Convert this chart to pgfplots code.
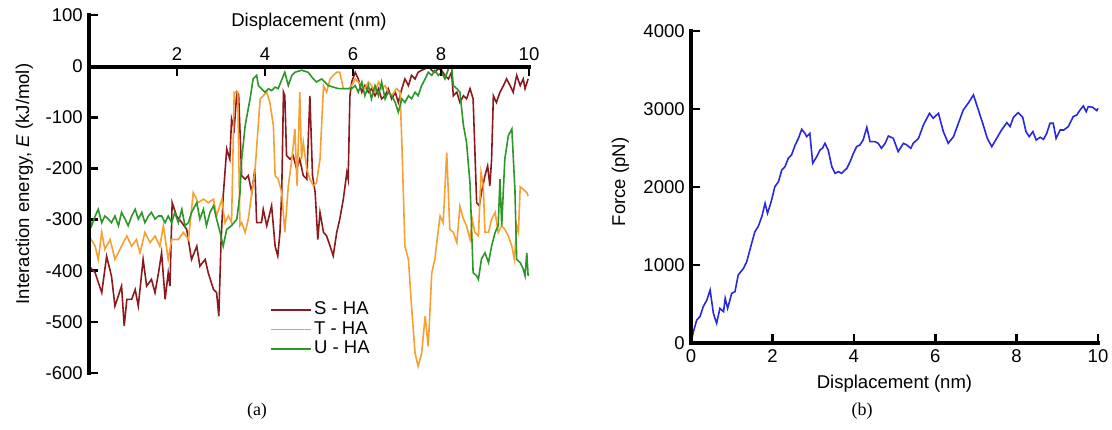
\documentclass[border=0pt]{standalone}
\usepackage{pgfplots}
\pgfplotsset{compat=1.18}
\usepackage{fontspec}
\setmainfont{Liberation Sans}
\newfontfamily\serifcap{Liberation Serif}
\definecolor{cS}{RGB}{140,25,30}
\definecolor{cT}{RGB}{247,160,50}
\definecolor{cU}{RGB}{45,150,40}
\definecolor{cF}{RGB}{40,40,225}
\tikzset{axline/.style={line width=3.2pt, black, line cap=rect}}
\pgfplotsset{
  myax/.style={
    scale only axis,
    clip=false,
    font=\fontsize{18.5}{22}\selectfont,
    tick label style={font=\fontsize{18.5}{22}\selectfont},
    label style={font=\fontsize{18.5}{22}\selectfont},
    /pgf/number format/assume math mode=true,
    axis line style={draw=none},
    tick style={line width=2.6pt, black},
    major tick length=9pt,
    tick align=inside,
  }
}
\begin{document}
\fontsize{18.5}{22}\selectfont%
\begin{tikzpicture}
\path[use as bounding box] (0,0) rectangle (1112pt,430pt);
% ---------- panel (a) ----------
\begin{axis}[myax,
  at={(89pt,57pt)}, anchor=south west,
  width=440pt, height=358pt,
  xmin=0, xmax=10, ymin=-600, ymax=100,
  xtick=\empty, ytick pos=left,
  ytick={-600,-500,...,100},
  ylabel={Interaction energy, \textit{E} (kJ/mol)},
  ylabel style={xshift=10pt, yshift=0pt},
  legend style={draw=none, fill=none, at={(axis cs:4.05,-453)}, anchor=north west,
    font=\fontsize{18.5}{22}\selectfont, row sep=0pt},
  legend cell align=left,
  legend image code/.code={\draw[#1, line width=1.8pt] (0pt,0pt) -- (40pt,0pt);},
  every axis plot/.append style={line width=1.6pt},
]
\addplot[cS] coordinates {
(0,-391)(0.14,-404)(0.29,-443)(0.40,-372)(0.51,-410)(0.59,-469)(0.74,-430)(0.80,-508)
(0.86,-456)(0.97,-456)(1.05,-437)(1.12,-469)(1.23,-378)(1.31,-430)(1.42,-417)(1.50,-443)
(1.58,-404)(1.65,-365)(1.73,-456)(1.80,-404)(1.84,-430)(1.89,-267)(1.99,-293)(2.11,-306)
(2.22,-319)(2.33,-378)(2.45,-352)(2.52,-391)(2.64,-378)(2.71,-404)(2.83,-437)(2.90,-443)
(2.95,-489)(3.00,-345)(3.05,-254)(3.13,-162)(3.20,-182)(3.24,-103)(3.30,-123)(3.36,-51)
(3.40,-55)(3.47,-214)(3.55,-221)(3.62,-214)(3.70,-247)(3.77,-201)(3.81,-306)(3.92,-306)
(3.96,-280)(4.04,-312)(4.15,-273)(4.23,-352)(4.29,-371)(4.34,-325)(4.38,-247)(4.42,-51)
(4.45,-58)(4.49,-175)(4.57,-182)(4.64,-175)(4.72,-201)(4.79,-182)(4.87,-214)(4.95,-221)
(5.02,-58)(5.08,-214)(5.14,-247)(5.20,-339)(5.25,-286)(5.33,-325)(5.40,-332)(5.48,-352)
(5.55,-371)(5.63,-325)(5.70,-299)(5.78,-260)(5.86,-208)(5.89,-221)(5.93,-58)(5.97,-31)
(6.05,-12)(6.12,-25)(6.20,-51)(6.27,-38)(6.35,-51)(6.42,-44)(6.50,-58)(6.58,-44)
(6.65,-64)(6.73,-58)(6.80,-44)(6.88,-64)(6.96,-51)(7.03,-71)(7.11,-44)(7.18,-25)
(7.26,-38)(7.33,-18)(7.41,-25)(7.48,-12)(7.56,-8)(7.64,-5)(7.71,0)(7.79,-8)
(7.86,-12)(7.94,-5)(8.01,-8)(8.09,-18)(8.17,-25)(8.24,-12)(8.28,-58)(8.36,-51)
(8.43,-71)(8.51,-58)(8.58,-64)(8.66,-44)(8.73,-64)(8.81,-267)(8.87,-273)(8.92,-247)
(9.00,-214)(9.06,-195)(9.11,-234)(9.15,-182)(9.19,-58)(9.26,-71)(9.34,-51)(9.42,-38)
(9.49,-25)(9.57,-38)(9.64,-51)(9.72,-18)(9.80,-38)(9.87,-25)(9.91,-44)(9.98,-25)
};
\addlegendentry{S - HA}
\addplot[cT] coordinates {
(0,-332)(0.14,-352)(0.21,-378)(0.29,-325)(0.36,-358)(0.48,-339)(0.59,-378)(0.74,-352)
(0.86,-332)(0.97,-352)(1.08,-339)(1.16,-365)(1.27,-325)(1.39,-345)(1.50,-332)(1.61,-352)
(1.69,-312)(1.80,-378)(1.88,-339)(2.03,-339)(2.14,-325)(2.26,-339)(2.37,-247)(2.48,-267)
(2.60,-260)(2.71,-267)(2.83,-260)(2.90,-293)(3.02,-260)(3.09,-306)(3.17,-293)(3.24,-306)
(3.30,-51)(3.38,-51)(3.43,-312)(3.47,-306)(3.55,-325)(3.62,-299)(3.70,-247)(3.77,-208)
(3.89,-64)(3.96,-58)(4.04,-51)(4.11,-71)(4.19,-116)(4.23,-214)(4.30,-221)(4.38,-247)
(4.45,-325)(4.53,-234)(4.61,-182)(4.68,-123)(4.73,-234)(4.79,-51)(4.83,-182)(4.87,-149)
(4.95,-201)(5.02,-221)(5.10,-234)(5.17,-228)(5.25,-182)(5.33,-38)(5.40,-51)(5.48,-25)
(5.55,-18)(5.63,-12)(5.70,-12)(5.78,-44)(5.89,-44)(5.97,-38)(6.05,-25)(6.12,-31)
(6.20,-38)(6.27,-44)(6.35,-31)(6.42,-38)(6.50,-51)(6.58,-31)(6.65,-44)(6.73,-38)
(6.80,-51)(6.88,-58)(6.99,-44)(7.07,-51)(7.11,-149)(7.18,-352)(7.26,-378)(7.33,-469)
(7.41,-561)(7.48,-587)(7.56,-561)(7.64,-489)(7.71,-548)(7.79,-404)(7.86,-378)(7.94,-319)
(7.98,-293)(8.05,-306)(8.13,-169)(8.20,-319)(8.28,-325)(8.36,-345)(8.43,-274)(8.51,-299)
(8.58,-312)(8.66,-339)(8.71,-299)(8.77,-325)(8.85,-332)(8.91,-208)(8.96,-234)(9.00,-325)
(9.08,-325)(9.15,-299)(9.23,-286)(9.30,-325)(9.38,-312)(9.45,-319)(9.53,-332)(9.61,-352)
(9.67,-378)(9.72,-312)(9.76,-325)(9.80,-236)(9.87,-241)(9.95,-247)(9.98,-254)
};
\addlegendentry{T - HA}
\addplot[cU] coordinates {
(0,-293)(0.06,-312)(0.14,-293)(0.21,-280)(0.29,-306)(0.36,-293)(0.44,-299)(0.51,-306)
(0.59,-293)(0.67,-312)(0.74,-286)(0.82,-299)(0.89,-312)(0.97,-293)(1.05,-280)(1.12,-299)
(1.20,-286)(1.27,-306)(1.35,-293)(1.42,-286)(1.50,-299)(1.58,-293)(1.65,-293)(1.73,-306)
(1.80,-293)(1.88,-306)(1.95,-286)(2.03,-306)(2.11,-280)(2.18,-312)(2.26,-306)(2.33,-286)
(2.45,-267)(2.52,-299)(2.60,-280)(2.67,-312)(2.75,-286)(2.83,-273)(2.90,-299)(2.98,-325)
(3.05,-352)(3.13,-319)(3.24,-312)(3.36,-299)(3.43,-250)(3.47,-182)(3.55,-116)(3.66,-64)
(3.73,-25)(3.81,-18)(3.85,-38)(3.92,-44)(4.00,-51)(4.08,-44)(4.15,-48)(4.23,-41)
(4.30,-44)(4.42,-18)(4.45,-12)(4.53,-38)(4.61,-18)(4.68,-12)(4.83,-8)(4.98,-12)
(5.10,-25)(5.17,-31)(5.29,-25)(5.36,-31)(5.44,-38)(5.55,-41)(5.67,-44)(5.82,-44)
(5.97,-44)(6.05,-38)(6.12,-51)(6.20,-31)(6.27,-58)(6.35,-38)(6.42,-64)(6.50,-38)
(6.58,-58)(6.65,-31)(6.73,-64)(6.80,-51)(6.88,-58)(6.96,-71)(7.03,-90)(7.11,-64)
(7.18,-71)(7.26,-58)(7.33,-64)(7.41,-51)(7.48,-58)(7.56,-38)(7.64,-25)(7.71,-12)
(7.79,-18)(7.86,-8)(7.94,-18)(8.01,-12)(8.09,-25)(8.17,-5)(8.24,0)(8.28,-38)
(8.36,-44)(8.43,-51)(8.51,-116)(8.58,-149)(8.66,-230)(8.73,-404)(8.81,-410)(8.85,-417)
(8.92,-377)(9.00,-365)(9.08,-384)(9.15,-352)(9.23,-325)(9.30,-312)(9.34,-221)(9.38,-312)
(9.45,-182)(9.53,-136)(9.61,-123)(9.68,-241)(9.72,-378)(9.80,-384)(9.87,-397)(9.91,-410)
(9.95,-365)(9.98,-410)
};
\addlegendentry{U - HA}
\draw[axline] (rel axis cs:0,0) -- (rel axis cs:0,1);
\end{axis}
% x axis of panel (a), drawn at E = 0
\begin{axis}[myax,
  at={(89pt,363pt)}, anchor=north west,
  width=440pt, height=20pt,
  xmin=0, xmax=10, ymin=0, ymax=1,
  ytick=\empty, xtick={2,4,6,8,10},
  xtick pos=right, xticklabel pos=right,
  xlabel={Displacement (nm)},
  xlabel style={yshift=5pt},
]
\draw[axline] (rel axis cs:0,1) -- (rel axis cs:1,1);
\end{axis}
% ---------- panel (b) ----------
\begin{axis}[myax,
  at={(691pt,87pt)}, anchor=south west,
  width=407pt, height=312pt,
  xmin=0, xmax=10, ymin=0, ymax=4000,
  xtick pos=left, ytick pos=left,
  xtick={0,2,...,10}, ytick={0,1000,...,4000},
  xlabel={Displacement (nm)}, ylabel={Force (pN)},
  ylabel style={xshift=5pt, yshift=2pt},
  /pgf/number format/1000 sep={},
]
\addplot[cF, line width=1.6pt] coordinates {
(0,0)(0.06,145)(0.14,295)(0.22,338)(0.30,466)(0.39,551)(0.47,680)(0.55,380)
(0.63,252)(0.71,444)(0.80,402)(0.84,573)(0.90,444)(1.00,637)(1.08,658)(1.16,872)
(1.29,957)(1.37,1043)(1.49,1278)(1.57,1428)(1.65,1492)(1.74,1620)(1.82,1791)(1.88,1663)
(1.97,1812)(2.06,2004)(2.15,2069)(2.23,2218)(2.31,2261)(2.39,2368)(2.47,2411)(2.56,2539)
(2.64,2624)(2.72,2740)(2.80,2688)(2.84,2646)(2.92,2688)(2.99,2304)(3.09,2389)(3.17,2475)
(3.23,2496)(3.29,2560)(3.37,2475)(3.46,2261)(3.54,2175)(3.62,2197)(3.70,2175)(3.83,2240)
(3.91,2325)(3.99,2432)(4.07,2517)(4.15,2539)(4.23,2603)(4.32,2765)(4.40,2581)(4.52,2581)
(4.60,2560)(4.68,2496)(4.77,2560)(4.85,2654)(4.97,2624)(5.09,2453)(5.22,2560)(5.30,2539)
(5.40,2496)(5.46,2560)(5.59,2624)(5.71,2795)(5.86,2945)(5.95,2881)(6.08,2945)(6.20,2710)
(6.32,2560)(6.45,2646)(6.57,2817)(6.69,2988)(6.81,3073)(6.94,3180)(7.06,2988)(7.18,2795)
(7.28,2624)(7.39,2517)(7.51,2624)(7.63,2731)(7.76,2825)(7.84,2774)(7.92,2893)(8.04,2953)
(8.15,2893)(8.23,2710)(8.31,2646)(8.40,2710)(8.48,2603)(8.58,2637)(8.66,2611)(8.74,2688)
(8.82,2817)(8.90,2817)(8.97,2624)(9.07,2731)(9.16,2731)(9.27,2774)(9.39,2902)(9.48,2923)
(9.56,2988)(9.64,3039)(9.71,2966)(9.76,3030)(9.87,3022)(9.97,2979)(10.0,3009)
};
\draw[axline] (rel axis cs:0,1) -- (rel axis cs:0,0) -- (rel axis cs:1,0);
\end{axis}
\node[font=\serifcap\fontsize{18}{20}\selectfont] at (257pt,19pt) {(a)};
\node[font=\serifcap\fontsize{18}{20}\selectfont] at (862pt,19pt) {(b)};
\end{tikzpicture}
\end{document}
